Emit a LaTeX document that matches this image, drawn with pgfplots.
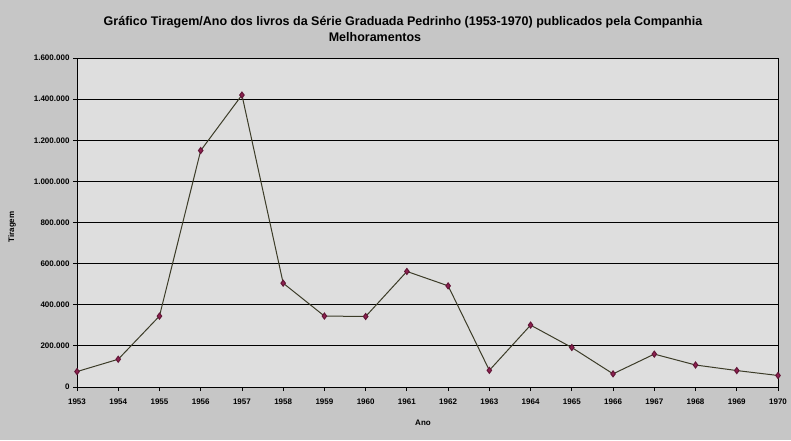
\documentclass[border=0pt]{standalone}
\usepackage{fontspec}
\setmainfont{Liberation Sans}
\usepackage{pgfplots}
\pgfplotsset{compat=1.18}
\definecolor{outerbg}{HTML}{C6C6C6}
\definecolor{plotbg}{HTML}{DEDEDE}
\definecolor{linec}{HTML}{3C3C28}
\definecolor{markc}{HTML}{8E2150}
\begin{document}
\begin{tikzpicture}[x=1pt,y=1pt]
\useasboundingbox (0,0) rectangle (791,440);
\fill[outerbg] (0,0) rectangle (791,440);
% title, two lines as in the original
\node[font=\bfseries\fontsize{12.5}{13}\selectfont] at (403,418) {Gráfico Tiragem/Ano dos livros da Série Graduada Pedrinho (1953-1970) publicados pela Companhia};
\node[font=\bfseries\fontsize{12.5}{13}\selectfont] at (375,403) {Melhoramentos};
\node[font=\bfseries\fontsize{8}{9}\selectfont, rotate=90] at (12,213) {Tiragem};
\node[font=\bfseries\fontsize{8}{9}\selectfont] at (423,17) {Ano};
\begin{axis}[
at={(77pt,53pt)}, anchor=south west,
scale only axis,
width=701pt, height=329pt,
xmin=0, xmax=17,
ymin=0, ymax=1600000,
axis background/.style={fill=plotbg},
axis line style={black, line width=1pt},
xtick={0,...,17},
xticklabels={1953,1954,1955,1956,1957,1958,1959,1960,1961,1962,1963,1964,1965,1966,1967,1968,1969,1970},
ytick={0,200000,...,1600000},
scaled y ticks=false,
yticklabel={\pgfmathprintnumber[fixed,1000 sep={.}]{\tick}},
/pgf/number format/assume math mode=true,
tick align=outside,
major tick length=4pt,
tick style={black, line width=0.8pt},
xtick pos=bottom, ytick pos=left,
ticklabel style={font=\bfseries\fontsize{8}{9}\selectfont},
xticklabel style={yshift=-4pt},
ymajorgrids,
major grid style={black, line width=1pt},
clip=false,
]
\addplot[color=linec, line width=1pt, mark=diamond*, mark size=3pt,
  mark options={fill=markc, draw=markc!70!black}]
coordinates {
(0,75000)(1,135000)(2,345000)(3,1150000)(4,1420000)(5,505000)
(6,345000)(7,343000)(8,562000)(9,492000)(10,81000)(11,301000)
(12,192000)(13,64000)(14,160000)(15,107000)(16,80000)(17,56000)
};
\end{axis}
\end{tikzpicture}
\end{document}
